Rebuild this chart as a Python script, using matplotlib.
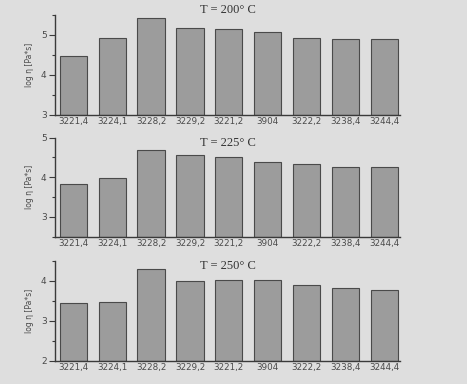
import matplotlib
matplotlib.use("Agg")
import matplotlib.pyplot as plt
from matplotlib.ticker import MultipleLocator

categories = ["3221,4", "3224,1", "3228,2", "3229,2", "3221,2", "3904", "3222,2", "3238,4", "3244,4"]
vals_200 = [4.47, 4.92, 5.43, 5.18, 5.14, 5.07, 4.93, 4.91, 4.89]
vals_225 = [3.84, 3.98, 4.68, 4.56, 4.52, 4.38, 4.33, 4.25, 4.26]
vals_250 = [3.44, 3.46, 4.30, 3.99, 4.03, 4.03, 3.91, 3.83, 3.77]
titles = ["T = 200° C", "T = 225° C", "T = 250° C"]
ylims = [(3, 5.5), (2.5, 5), (2, 4.5)]
yticks = [[3, 4, 5], [3, 4, 5], [2, 3, 4]]
series = [vals_200, vals_225, vals_250]

bg = "#dedede"
fig = plt.figure(figsize=(4.67, 3.84), dpi=100, facecolor=bg)

W, H = 467, 384
boxes = [(55, 15, 400, 115), (55, 137.7, 400, 236.7), (55, 261, 400, 360.7)]
title_y = [10, 143, 266]

for i, (box, vals) in enumerate(zip(boxes, series)):
    x0, y0, x1, y1 = box
    ax = fig.add_axes([x0 / W, 1 - y1 / H, (x1 - x0) / W, (y1 - y0) / H])
    ax.set_facecolor(bg)
    base = ylims[i][0]
    ax.bar(range(len(categories)), [v - base for v in vals], width=0.7,
           bottom=base, color="#9c9c9c", edgecolor="#4a4a4a", linewidth=0.8,
           zorder=2)
    ax.set_xlim(-0.47, 8.4)
    ax.set_ylim(*ylims[i])
    ax.set_yticks(yticks[i])
    ax.yaxis.set_minor_locator(MultipleLocator(0.5))
    ax.set_xticks(range(len(categories)))
    ax.set_xticklabels(categories, fontsize=6.3, color="#4a4a4a")
    ax.tick_params(axis="x", length=0, pad=1.5)
    ax.tick_params(axis="y", which="major", length=4, width=0.8, color="#3a3a3a",
                   labelsize=6.5, labelcolor="#4a4a4a", pad=2)
    ax.tick_params(axis="y", which="minor", length=2.5, width=0.8, color="#3a3a3a")
    for s in ["top", "right"]:
        ax.spines[s].set_visible(False)
    for s in ["left", "bottom"]:
        ax.spines[s].set_color("#3a3a3a")
        ax.spines[s].set_linewidth(1.0)
    ax.set_ylabel("log η [Pa*s]", fontsize=5.5, color="#4a4a4a", labelpad=5)
    fig.text(228 / W, 1 - title_y[i] / H, titles[i], ha="center", va="center",
             fontsize=9, family="Liberation Serif", color="#333333")

fig.savefig("out.png", dpi=100, facecolor=bg)
